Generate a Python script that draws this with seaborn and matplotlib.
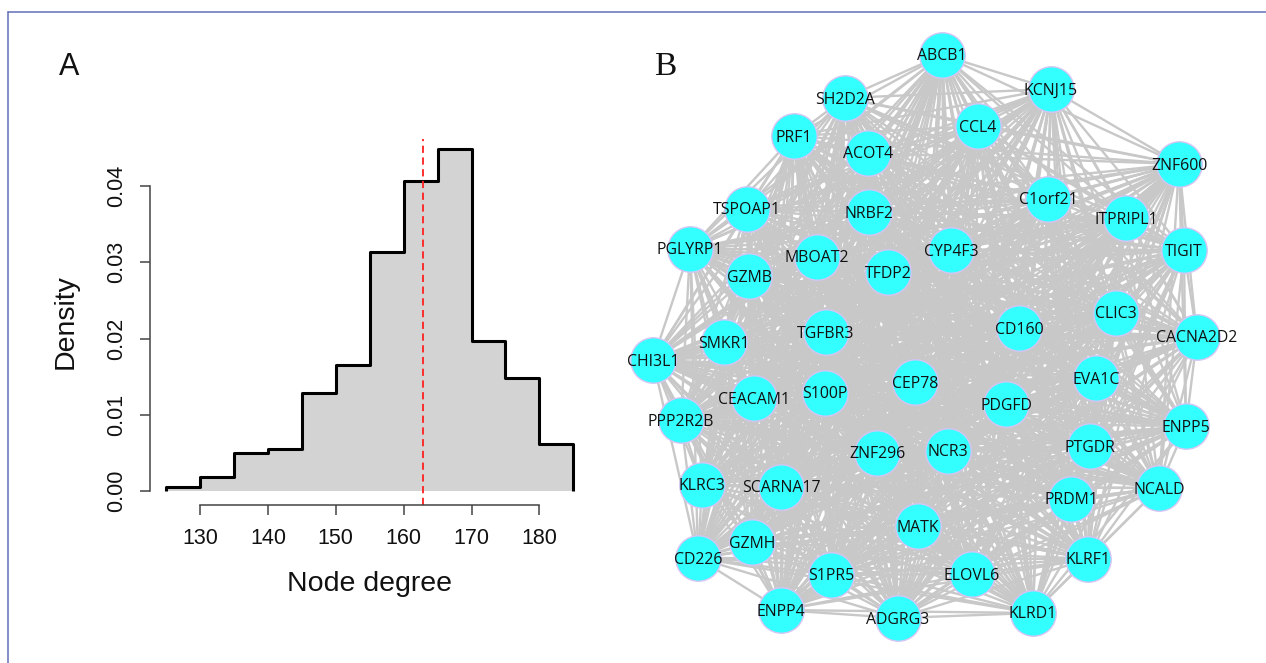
import numpy as np
import pandas as pd
import matplotlib
matplotlib.use("Agg")
import matplotlib.pyplot as plt
import seaborn as sns
from matplotlib.collections import LineCollection
from matplotlib.lines import Line2D
from itertools import combinations

# ---------------- Panel A data (histogram of node degree) ----------------
bin_edges = [125, 130, 135, 140, 145, 150, 155, 160, 165, 170, 175, 180, 185]
density = [0.00057, 0.0018, 0.00495, 0.0055, 0.0129, 0.0166,
           0.0313, 0.0406, 0.0449, 0.0197, 0.0148, 0.0062]
mean_degree = 162.8
x_ticks = [130, 140, 150, 160, 170, 180]
y_ticks = [0.00, 0.01, 0.02, 0.03, 0.04]
y_tick_labels = ["0.00", "0.01", "0.02", "0.03", "0.04"]

# ---------------- Panel B data (co-expression network) ----------------
genes = ["ABCB1", "SH2D2A", "PRF1", "ACOT4", "TSPOAP1", "NRBF2", "PGLYRP1",
         "MBOAT2", "TFDP2", "GZMB", "TGFBR3", "SMKR1", "CHI3L1", "CEACAM1",
         "S100P", "CEP78", "PPP2R2B", "ZNF296", "KLRC3", "SCARNA17", "MATK",
         "GZMH", "CD226", "S1PR5", "ENPP4", "ADGRG3", "NCR3", "KCNJ15", "CCL4",
         "ZNF600", "C1orf21", "ITPRIPL1", "TIGIT", "CYP4F3", "CLIC3", "CD160",
         "CACNA2D2", "EVA1C", "PDGFD", "ENPP5", "PTGDR", "NCALD", "PRDM1",
         "KLRF1", "ELOVL6", "KLRD1"]
node_x = [942, 845, 794, 868, 747, 869, 690, 817, 888, 749, 826, 724, 653,
          754, 825, 915, 681, 877, 702, 781, 918, 752, 698, 831, 781, 898,
          948, 1051, 978, 1179, 1048, 1126, 1184, 951, 1116, 1019, 1197,
          1096, 1006, 1186, 1090, 1159, 1071, 1088, 972, 1033]
node_y = [55, 98, 136, 153, 209, 212, 249, 257, 272, 276, 332, 342, 360,
          398, 393, 382, 420, 453, 485, 487, 526, 542, 558, 575, 610, 618,
          451, 89, 126, 164, 199, 218, 250, 250, 313, 328, 337,
          378, 404, 426, 446, 488, 499, 559, 574, 613]
edges = list(combinations(range(len(genes)), 2))

W, H = 1266, 663
fig = plt.figure(figsize=(W / 100, H / 100), dpi=100)
sns.set_style("ticks")
plt.rcParams['font.family'] = ['Liberation Sans', 'DejaVu Sans']

# ---------------- Panel A ----------------
ax1 = fig.add_axes([149.8 / W, 1 - 504.9 / H, 439.8 / W, 366.2 / H])
centers = [(a + b) / 2 for a, b in zip(bin_edges[:-1], bin_edges[1:])]
hist_df = pd.DataFrame({"degree": centers, "density": density})
sns.histplot(data=hist_df, x="degree", weights="density", bins=bin_edges,
             stat="count", element="step", fill=True, color="#d3d3d3",
             alpha=1, linewidth=0, ax=ax1)
sns.histplot(data=hist_df, x="degree", weights="density", bins=bin_edges,
             stat="count", element="step", fill=False, color="black",
             linewidth=2.2, ax=ax1)
ax1.vlines([bin_edges[0], bin_edges[-1]], 0, [density[0], density[-1]],
           color="black", linewidth=2.2)
ax1.axvline(mean_degree, color="#ff2020", linestyle=(0, (4, 2.5)), linewidth=1.3)
ax1.set_xlim(122.6, 187.4)
ax1.set_ylim(-0.0018, 0.0462)
ax1.set_xticks(x_ticks)
ax1.set_xticklabels([str(t) for t in x_ticks])
ax1.set_yticks(y_ticks)
ax1.set_yticklabels(y_tick_labels, rotation=90, va="center")
for s in ["top", "right"]:
    ax1.spines[s].set_visible(False)
ax1.spines["left"].set_bounds(0, 0.04)
ax1.spines["bottom"].set_bounds(130, 180)
for s in ["left", "bottom"]:
    ax1.spines[s].set_color("#444444")
    ax1.spines[s].set_linewidth(1.1)
ax1.tick_params(axis="both", direction="out", length=7.5, width=1.1,
                color="#444444", labelsize=15.5, labelcolor="#111111", pad=9)
ax1.set_xlabel("Node degree", fontsize=20.5, color="#111111")
ax1.set_ylabel("Density", fontsize=20.5, color="#111111")
ax1.xaxis.set_label_coords(0.5, (504.9 - 584) / 366.2)
ax1.xaxis.label.set_va("center")
ax1.yaxis.set_label_coords((66 - 149.8) / 439.8, 0.5)
ax1.yaxis.label.set_va("center")
ax1.grid(False)

fig.text(69 / W, 1 - 75 / H, "A", ha="center", va="baseline", fontsize=22,
         family="Liberation Sans", color="#111111")

# ---------------- Panel B ----------------
ax2 = fig.add_axes([630 / W, 0, (W - 630) / W, (H - 20) / H])
segs = [[(node_x[i], node_y[i]), (node_x[j], node_y[j])] for i, j in edges]
lc = LineCollection(segs, colors="#c8c8c8", linewidths=1.7, zorder=1)
ax2.add_collection(lc)
net_df = pd.DataFrame({"x": node_x, "y": node_y, "gene": genes})
sns.scatterplot(data=net_df, x="x", y="y", s=1070, color="#33ffff",
                edgecolor="#d6c4f4", linewidth=1.0, ax=ax2, zorder=3,
                legend=False)
ax2.set_xlim(630, W)
ax2.set_ylim(H, 20)
ax2.axis("off")
for gx, gy, g in zip(node_x, node_y, genes):
    ax2.text(gx, gy + 5.5, g, ha="center", va="baseline", fontsize=11.4,
             family="Open Sans", color="#111111", zorder=4)

fig.text(665 / W, 1 - 75 / H, "B", ha="center", va="baseline", fontsize=24,
         family="Liberation Serif", color="#111111")

# frame lines (top and left)
fig.add_artist(Line2D([8.3 / W, 1], [1 - 11.5 / H, 1 - 11.5 / H],
                      color="#6070b8", linewidth=1.1, transform=fig.transFigure))
fig.add_artist(Line2D([8.3 / W, 8.3 / W], [0, 1 - 11.5 / H],
                      color="#6070b8", linewidth=1.1, transform=fig.transFigure))

fig.savefig("out.png", dpi=100, facecolor="white")
